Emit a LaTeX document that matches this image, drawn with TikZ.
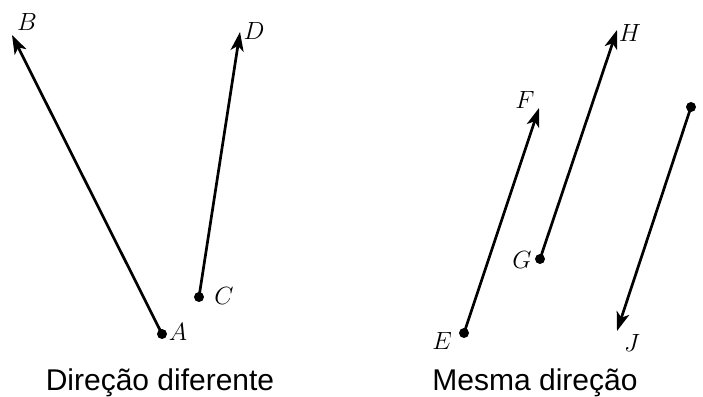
\documentclass[tikz,border=0pt]{standalone}
\usepackage{fontspec}
\setsansfont{Liberation Sans}
\usetikzlibrary{arrows.meta}
\begin{document}
\begin{tikzpicture}[x=1pt,y=1pt,
  vec/.style={line width=2.7pt,-{Stealth[length=19pt,width=13pt,inset=5pt]}},
  pt/.style={circle,fill=black,inner sep=0pt,minimum size=10pt},
  lbl/.style={inner sep=0pt,font=\fontsize{31}{36}\selectfont},
  captxt/.style={inner sep=0pt,anchor=base,font=\sffamily\fontsize{30}{36}\selectfont}]
\useasboundingbox (0,0) rectangle (703,396);
\clip (0,0) rectangle (703,396);
\coordinate (A) at (162,62);
\coordinate (B) at (12,361);
\coordinate (C) at (199,99);
\coordinate (D) at (240,364);
\coordinate (E) at (464,63);
\coordinate (F) at (539,288);
\coordinate (G) at (540,137);
\coordinate (H) at (617,366);
\coordinate (I) at (691,289);
\coordinate (J) at (617,65);
\draw[vec] (A) -- (B);
\draw[vec] (C) -- (D);
\draw[vec] (E) -- (F);
\draw[vec] (G) -- (H);
\draw[vec] (I) -- (J);
\node[pt] (dA) at (A) {};
\node[pt] (dC) at (C) {};
\node[pt] (dE) at (E) {};
\node[pt] (dG) at (G) {};
\node[pt] (dI) at (I) {};
\node[lbl] (lA) at (178,64) {$A$};
\node[lbl] (lB) at (27,374) {$B$};
\node[lbl] (lC) at (224,100) {$C$};
\node[lbl] (lD) at (254,365) {$D$};
\node[lbl] (lE) at (442,55) {$E$};
\node[lbl] (lF) at (525,296) {$F$};
\node[lbl] (lG) at (522,136) {$G$};
\node[lbl] (lH) at (630,363) {$H$};
\node[lbl] (lI) at (709,284) {$I$};
\node[lbl] (lJ) at (632,53) {$J$};
\node[captxt] (t1) at (160,6) {Direção diferente};
\node[captxt] (t2) at (535,6) {Mesma direção};
\end{tikzpicture}
\end{document}
